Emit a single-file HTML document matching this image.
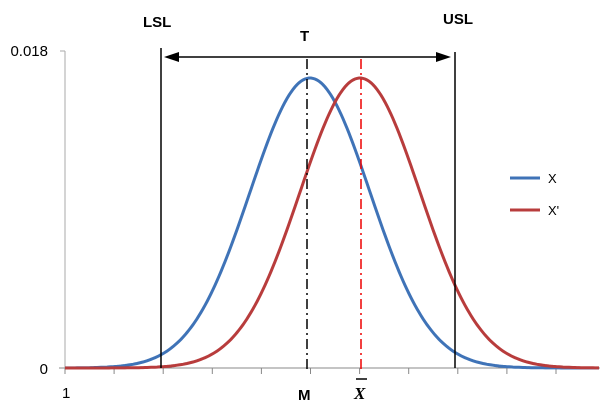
<!DOCTYPE html>
<html><head><style>
body{margin:0;background:#fff;}
svg{display:block;font-family:"Liberation Sans",sans-serif;}
</style></head><body>
<svg id="s" width="600" height="410" xmlns="http://www.w3.org/2000/svg">
<line x1="65" y1="51" x2="65" y2="368" stroke="#aaa" stroke-width="1"/>
<line x1="60" y1="51" x2="65" y2="51" stroke="#aaa"/>
<line x1="59" y1="368" x2="600" y2="368" stroke="#888"/>
<g id="ticks" stroke="#888"></g>
<text x="48" y="56" font-size="15" text-anchor="end">0.018</text>
<text x="48" y="374" font-size="15" text-anchor="end">0</text>
<text x="62" y="398" font-size="15">1</text>
<path id="b" fill="none" stroke="#3f73b7" stroke-width="3"/>
<path id="r" fill="none" stroke="#b83c3c" stroke-width="3"/>
<line x1="161" y1="48" x2="161" y2="368" stroke="#000" stroke-width="1.5"/>
<line x1="455" y1="52" x2="455" y2="368" stroke="#000" stroke-width="1.5"/>
<line x1="172" y1="57" x2="440" y2="57" stroke="#000" stroke-width="1.5"/>
<polygon points="164,57 179,52 179,62" fill="#000"/>
<polygon points="451,57 436,52 436,62" fill="#000"/>
<line x1="307" y1="59" x2="307" y2="372" stroke="#000" stroke-width="1.5" stroke-dasharray="10,4,2,4"/>
<line x1="361" y1="59" x2="361" y2="372" stroke="#e00" stroke-width="1.5" stroke-dasharray="10,4,2,4"/>
<text x="143" y="27" font-size="15" font-weight="bold">LSL</text>
<text x="443" y="24" font-size="15" font-weight="bold">USL</text>
<text x="300" y="41" font-size="15" font-weight="bold">T</text>
<text x="298" y="400" font-size="15" font-weight="bold">M</text>
<text x="354" y="399" font-size="17" font-weight="bold" font-style="italic" font-family="Liberation Serif,serif">X</text>
<line x1="356" y1="379" x2="367" y2="379" stroke="#000" stroke-width="1.5"/>
<line x1="510" y1="178" x2="540" y2="178" stroke="#3f73b7" stroke-width="3"/>
<text x="548" y="183" font-size="13">X</text>
<line x1="510" y1="210" x2="540" y2="210" stroke="#b83c3c" stroke-width="3"/>
<text x="548" y="215" font-size="13">X'</text>
</svg>
<script>
function p(mu){var d="";for(var x=65;x<=600;x+=2){var z=(x-mu)/60;var y=368-290*Math.exp(-z*z/2);d+=(x==65?"M":"L")+x+","+y.toFixed(1);}return d;}
document.getElementById("b").setAttribute("d",p(310));
document.getElementById("r").setAttribute("d",p(360));
var t="";for(var i=0;i<11;i++){var x=65+i*49.1;t+='<line x1="'+x+'" y1="368" x2="'+x+'" y2="374"/>';}
document.getElementById("ticks").innerHTML=t;
</script>
</body></html>
